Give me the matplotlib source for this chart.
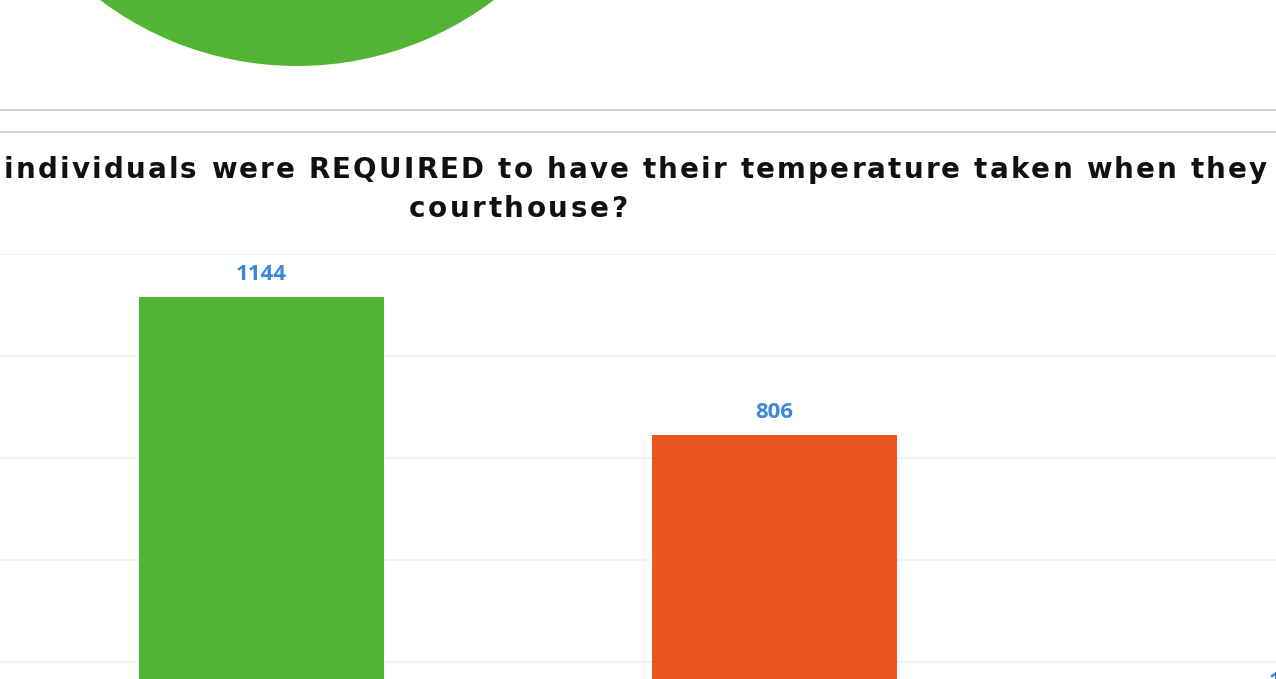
import matplotlib
matplotlib.use("Agg")
import matplotlib.pyplot as plt
from matplotlib.lines import Line2D
from matplotlib.font_manager import FontProperties, findfont, get_font

# donnees
categories = ["Yes", "No", "Other"]
counts = [1144, 806, 145]
bar_colors = ["#52b433", "#ec561e", "#9e9e9e"]
pie_values = [100]
pie_colors = ["#52b433"]
title_line1 = "individuals were REQUIRED to have their temperature taken when they"
title_line2 = "courthouse?"
grid_ticks = [0, 250, 500, 750, 1000, 1250]

W, H = 1276, 679
fig = plt.figure(figsize=(W / 100, H / 100), dpi=100)


# texte avec espacement entre lettres (pas dispo directement dans matplotlib)
def texte_espace(s, x_px, y_px, size, track, ha="left"):
    fp = FontProperties(family="DejaVu Sans", weight="bold", size=size)
    ft = get_font(findfont(fp))
    ft.set_size(size, 100)
    advs = [ft.load_char(ord(c)).linearHoriAdvance / 65536 for c in s]
    total = sum(advs) + track * (len(s) - 1)
    x = x_px if ha == "left" else x_px - total / 2
    for c, a in zip(s, advs):
        if c != " ":
            fig.text(x / W, 1 - y_px / H, c, fontproperties=fp, ha="left",
                     va="baseline", color="#111111")
        x += a + track


# camembert coupe en haut
cx, cy, r = 297, -261, 327
ax_pie = fig.add_axes([(cx - r) / W, (H - (cy + r)) / H, 2 * r / W, 2 * r / H])
ax_pie.pie(pie_values, colors=pie_colors, startangle=90, radius=1)
ax_pie.set_xlim(-1, 1)
ax_pie.set_ylim(-1, 1)
ax_pie.axis("off")

# lignes de separation
for yy in [110, 132]:
    fig.add_artist(Line2D([0, 1], [1 - yy / H, 1 - yy / H], transform=fig.transFigure,
                          color="#d4d4d4", lw=1.5))

# titre
texte_espace(title_line1, 4, 178, 20, 2.2, ha="left")
texte_espace(title_line2, 518, 217, 20, 2.6, ha="center")

# barres
base_px = 764
top_px = 254
ax = fig.add_axes([0, (H - base_px) / H, 1, (base_px - top_px) / H])
x = list(range(len(categories)))
bars = ax.bar(x, counts, width=0.478, color=bar_colors, zorder=2)
ax.set_xlim(-261.5 / 513, (W - 261.5) / 513)
ax.set_ylim(0, 1250)
ax.set_yticks(grid_ticks)
ax.grid(axis="y", color="#f3f3f3", lw=1.5, zorder=0)
ax.tick_params(left=False, bottom=False, labelleft=False, labelbottom=False)
for s in ax.spines.values():
    s.set_visible(False)
for b, v in zip(bars, counts):
    ax.annotate(str(v), (b.get_x() + b.get_width() / 2, v), xytext=(0, 9),
                textcoords="offset points", ha="center", va="bottom",
                fontsize=16, fontweight="bold", color="#3a87db", family="Open Sans",
                annotation_clip=False)

fig.savefig("out.png", dpi=100)
